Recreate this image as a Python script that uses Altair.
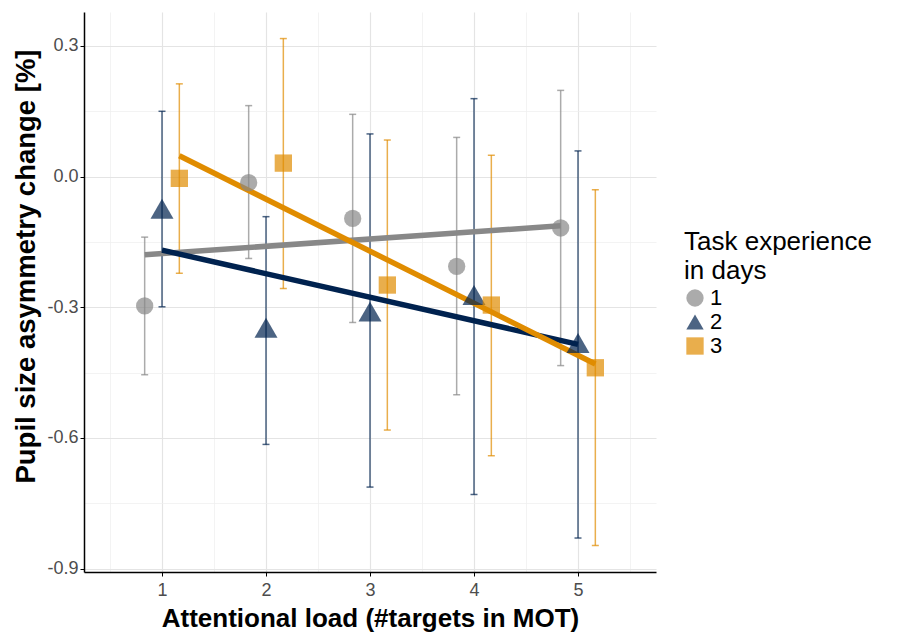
import altair as alt
import pandas as pd

loads = [1, 2, 3, 4, 5]
days = [1, 2, 3]
day1_mean = [-0.297, -0.014, -0.096, -0.206, -0.118]
day1_low = [-0.455, -0.188, -0.335, -0.501, -0.434]
day1_high = [-0.139, 0.163, 0.143, 0.090, 0.198]
day2_mean = [-0.074, -0.347, -0.310, -0.272, -0.382]
day2_low = [-0.299, -0.615, -0.713, -0.730, -0.830]
day2_high = [0.150, -0.092, 0.098, 0.179, 0.059]
day3_mean = [-0.004, 0.031, -0.249, -0.295, -0.439]
day3_low = [-0.222, -0.257, -0.582, -0.641, -0.847]
day3_high = [0.213, 0.317, 0.084, 0.049, -0.030]

colors = ["#888888", "#00224F", "#E08C00"]
shapes = ["circle", "triangle-up", "square"]
x_ticks = [0.5, 1, 1.5, 2, 2.5, 3, 3.5, 4, 4.5, 5, 5.5]
y_ticks = [0.3, 0.15, 0.0, -0.15, -0.3, -0.45, -0.6, -0.75, -0.9]

rows = []
for d, m, lo, hi in [(1, day1_mean, day1_low, day1_high),
                     (2, day2_mean, day2_low, day2_high),
                     (3, day3_mean, day3_low, day3_high)]:
    for i, load in enumerate(loads):
        rows.append({"load": load, "day": d, "mean": m[i], "low": lo[i], "high": hi[i]})
df = pd.DataFrame(rows)

FONT = "Liberation Sans"

x_major = "datum.value % 1 == 0"
y_major = "abs(round(datum.value / 0.15)) % 2 == 0"

xscale = alt.Scale(domain=[0.25, 5.75], nice=False, zero=False)
yscale = alt.Scale(domain=[-0.908, 0.378], nice=False, zero=False)
cscale = alt.Scale(domain=days, range=colors)
sscale = alt.Scale(domain=days, range=shapes)

x_axis = alt.Axis(
    values=x_ticks,
    title="Attentional load (#targets in MOT)",
    labelPadding=5,
    titlePadding=6,
    labelExpr=f"{x_major} ? format(datum.value, 'd') : ''",
    tickOpacity={"condition": {"test": x_major, "value": 1}, "value": 0},
    gridColor={"condition": {"test": x_major, "value": "#E4E4E4"}, "value": "#EEEEEE"},
    gridWidth={"condition": {"test": x_major, "value": 1.2}, "value": 0.7},
)
y_axis = alt.Axis(
    values=y_ticks,
    title="Pupil size asymmetry change [%]",
    titleFontSize=27.5,
    titleY=254,
    labelExpr=f"{y_major} ? replace(format(datum.value, '.1f'), '\u2212', '-') : ''",
    tickOpacity={"condition": {"test": y_major, "value": 1}, "value": 0},
    gridColor={"condition": {"test": y_major, "value": "#E4E4E4"}, "value": "#EEEEEE"},
    gridWidth={"condition": {"test": y_major, "value": 1.2}, "value": 0.7},
)

legend = alt.Legend(
    title=["Task experience", "in days"],
    orient="none",
    legendX=600,
    legendY=217,
    titleFontSize=26,
    titleFontWeight="normal",
    titleColor="black",
    titleFont=FONT,
    titleLineHeight=29,
    titlePadding=3,
    titleLimit=400,
    labelFontSize=22,
    labelColor="black",
    labelFont=FONT,
    labelOffset=4,
    symbolSize=300,
    symbolOpacity=0.7,
    symbolStrokeWidth=0,
    rowPadding=2,
)

base = alt.Chart(df).transform_calculate(
    xpos="datum.load + (datum.day - 2) * 0.5 / 3"
)

x_enc = alt.X("xpos:Q", scale=xscale, axis=x_axis)
c_enc = alt.Color("day:N", scale=cscale, legend=legend)

err = base.mark_rule(strokeWidth=1.5, opacity=0.7).encode(
    x=x_enc,
    y=alt.Y("low:Q", scale=yscale, axis=y_axis),
    y2="high:Q",
    color=c_enc,
)
cap_lo = base.mark_tick(orient="horizontal", size=7, thickness=1.5, opacity=0.7).encode(
    x=x_enc,
    y=alt.Y("low:Q", scale=yscale, axis=y_axis),
    color=c_enc,
)
cap_hi = base.mark_tick(orient="horizontal", size=7, thickness=1.5, opacity=0.7).encode(
    x=x_enc,
    y=alt.Y("high:Q", scale=yscale, axis=y_axis),
    color=c_enc,
)

lines = base.transform_regression("xpos", "mean", groupby=["day"]).mark_line(
    strokeWidth=5.5
).encode(
    x=x_enc,
    y=alt.Y("mean:Q", scale=yscale, axis=y_axis),
    color=c_enc,
)

points = base.mark_point(filled=True, opacity=0.7, strokeWidth=0).encode(
    x=x_enc,
    y=alt.Y("mean:Q", scale=yscale, axis=y_axis),
    color=c_enc,
    shape=alt.Shape("day:N", scale=sscale, legend=legend),
    size=alt.condition("datum.day == 2", alt.value(529), alt.value(300)),
)

chart = alt.layer(err, cap_lo, cap_hi, lines, points).properties(
    width=572,
    height=560,
    padding={"left": 4, "top": 4, "right": 5, "bottom": 2},
).configure_view(stroke=None).configure_axis(
    labelFont=FONT,
    titleFont=FONT,
    labelFontSize=18,
    labelColor="#4D4D4D",
    titleFontSize=26,
    titleFontWeight="bold",
    titleColor="black",
    domainColor="black",
    domainWidth=1.5,
    tickColor="black",
    tickWidth=1,
    tickSize=4,
    labelPadding=2,
).configure_axisY(titlePadding=6)

chart.save("out.html", embed_options={"renderer": "svg", "actions": False})
